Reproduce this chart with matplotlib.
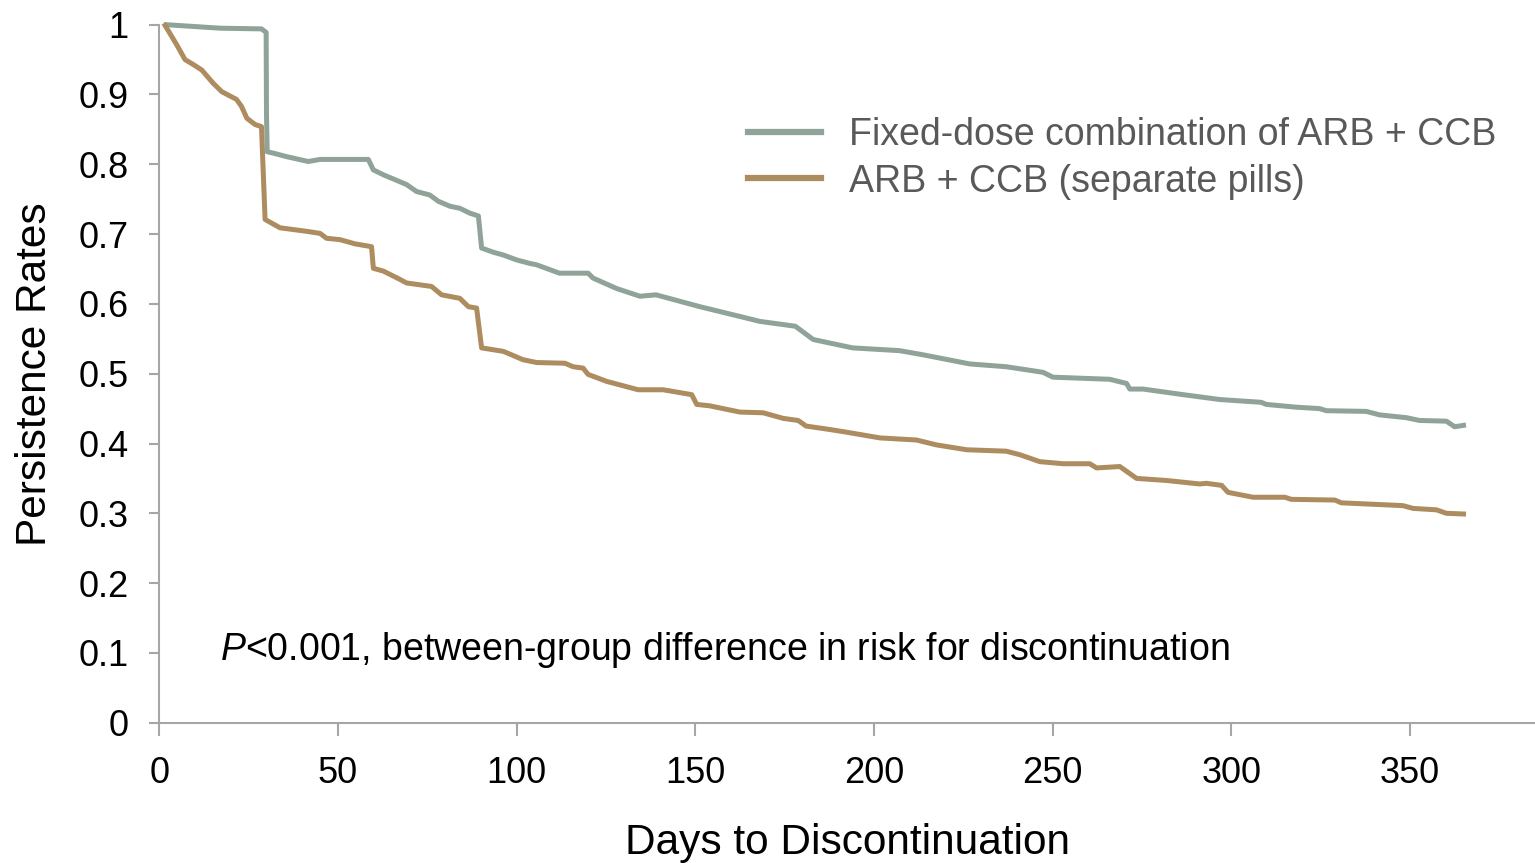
import matplotlib
matplotlib.use("Agg")
import matplotlib.pyplot as plt

plt.rcParams['font.family'] = ['Liberation Sans', 'DejaVu Sans']
plt.rcParams['mathtext.fontset'] = 'custom'
plt.rcParams['mathtext.rm'] = 'Liberation Sans'
plt.rcParams['mathtext.it'] = 'Liberation Sans:italic'

# Kaplan-Meier style persistence curves (day, persistence rate)
fdc_days = [2, 17, 28.6, 29.9, 30.0, 30.2, 31.9, 35.6, 41.7, 45, 58.5, 59.9, 62.7,
            69.2, 72, 75.7, 78.1, 81.3, 84.1, 86.9, 89.3, 90.2, 93.5, 96.3, 100,
            103.7, 105.6, 112, 120, 121.4, 128, 134.5, 139, 151.3, 162.5, 168,
            178, 183, 194, 207.2, 213.8, 226.8, 237, 247.3, 250.1, 266, 270.7,
            271.6, 275.3, 286.5, 296.8, 308.4, 309.8, 318.2, 324.7, 326.6, 337.8,
            341.5, 349, 352.7, 360.2, 362.5, 365]
fdc_rate = [1.0, 0.995, 0.994, 0.989, 0.87, 0.818, 0.816, 0.811, 0.804, 0.807, 0.807,
            0.792, 0.785, 0.771, 0.761, 0.756, 0.747, 0.740, 0.737, 0.730, 0.726,
            0.680, 0.674, 0.670, 0.663, 0.658, 0.656, 0.644, 0.644, 0.637, 0.622,
            0.611, 0.613, 0.596, 0.582, 0.575, 0.568, 0.549, 0.537, 0.533, 0.527,
            0.514, 0.510, 0.502, 0.495, 0.492, 0.486, 0.478, 0.478, 0.470, 0.463,
            0.459, 0.456, 0.452, 0.450, 0.447, 0.446, 0.441, 0.437, 0.433, 0.432,
            0.424, 0.426]

sep_days = [1.6, 3.5, 4.9, 7.2, 9.5, 11.9, 15.1, 17.5, 21.6, 23, 24.5, 26.8, 28.6,
            29.6, 33.8, 41.2, 45, 46.8, 50.6, 54.8, 59.4, 59.9, 62.7, 67.4, 69.2,
            76.2, 79, 84.1, 86.5, 88.8, 90.2, 96.3, 101.8, 105.6, 113.5, 115.8,
            118.6, 120, 125.2, 134, 141, 149, 150.4, 154, 162.5, 169, 174.6, 178.8,
            181, 187.7, 191.4, 201.7, 211.9, 217.5, 226, 237, 240.8, 246.4, 253,
            260.4, 262.3, 268.8, 273.5, 281.9, 291.2, 293, 297.3, 299.1, 306.1,
            315, 316.8, 329, 330.8, 348, 350.9, 357.4, 360.2, 365]
sep_rate = [0.999, 0.983, 0.971, 0.950, 0.943, 0.935, 0.916, 0.904, 0.893, 0.883,
            0.866, 0.857, 0.854, 0.721, 0.709, 0.704, 0.701, 0.694, 0.692, 0.686,
            0.682, 0.651, 0.647, 0.635, 0.630, 0.625, 0.613, 0.608, 0.596, 0.594,
            0.537, 0.532, 0.520, 0.516, 0.515, 0.510, 0.508, 0.499, 0.489, 0.477,
            0.477, 0.470, 0.456, 0.454, 0.445, 0.444, 0.436, 0.433, 0.425, 0.420,
            0.417, 0.408, 0.405, 0.398, 0.391, 0.389, 0.384, 0.374, 0.371, 0.371,
            0.365, 0.367, 0.350, 0.347, 0.342, 0.343, 0.340, 0.330, 0.323, 0.323,
            0.320, 0.319, 0.315, 0.311, 0.307, 0.305, 0.300, 0.299]

series_labels = ["Fixed-dose combination of ARB + CCB", "ARB + CCB (separate pills)"]
x_ticks = [0, 50, 100, 150, 200, 250, 300, 350]
y_ticks = [0, 0.1, 0.2, 0.3, 0.4, 0.5, 0.6, 0.7, 0.8, 0.9, 1]
y_tick_labels = ["0", "0.1", "0.2", "0.3", "0.4", "0.5", "0.6", "0.7", "0.8", "0.9", "1"]
note = r"$\mathit{P}$<0.001, between-group difference in risk for discontinuation"

GREEN = "#8FA398"
BROWN = "#AD8C60"
AXIS_GREY = "#A6A6A6"

fig = plt.figure(figsize=(15.35, 8.63), dpi=100)
ax = fig.add_axes([159.3 / 1535, (863 - 722.7) / 863, (1535 - 159.3) / 1535, 698 / 863])

ax.plot(fdc_days, fdc_rate, color=GREEN, lw=3.6, solid_joinstyle='round',
        clip_on=False, label=series_labels[0], zorder=3)
ax.plot(sep_days, sep_rate, color=BROWN, lw=3.6, solid_joinstyle='round',
        clip_on=False, label=series_labels[1], zorder=3)

ax.set_xlim(0, 385)
ax.set_ylim(0, 1)
ax.set_xticks(x_ticks)
ax.set_xticklabels([str(t) for t in x_ticks])
ax.set_yticks(y_ticks)
ax.set_yticklabels(y_tick_labels)

for side in ("top", "right"):
    ax.spines[side].set_visible(False)
for side in ("left", "bottom"):
    ax.spines[side].set_color(AXIS_GREY)
    ax.spines[side].set_linewidth(1.5)

ax.tick_params(axis='x', direction='out', length=9, width=1.5, color=AXIS_GREY,
               pad=15, labelsize=26, labelcolor='black')
ax.tick_params(axis='y', direction='out', length=7, width=1.5, color=AXIS_GREY,
               pad=15, labelsize=26, labelcolor='black')

ax.set_xlabel("Days to Discontinuation", fontsize=30.5, labelpad=23)
ax.set_ylabel("Persistence Rates", fontsize=30.5, labelpad=17)

ax.text(17, 0.104, note, fontsize=27, va='center', ha='left')

leg = ax.legend(loc='upper left', bbox_to_anchor=(748 / 1535, 1 - 117 / 863),
                bbox_transform=fig.transFigure, frameon=False, fontsize=27,
                handlelength=1.95, handletextpad=0.75, labelspacing=0.28,
                borderpad=0, borderaxespad=0)
for t in leg.get_texts():
    t.set_color("#595959")
for h in leg.get_lines():
    h.set_linewidth(4.5)

fig.savefig("out.png", dpi=100)
